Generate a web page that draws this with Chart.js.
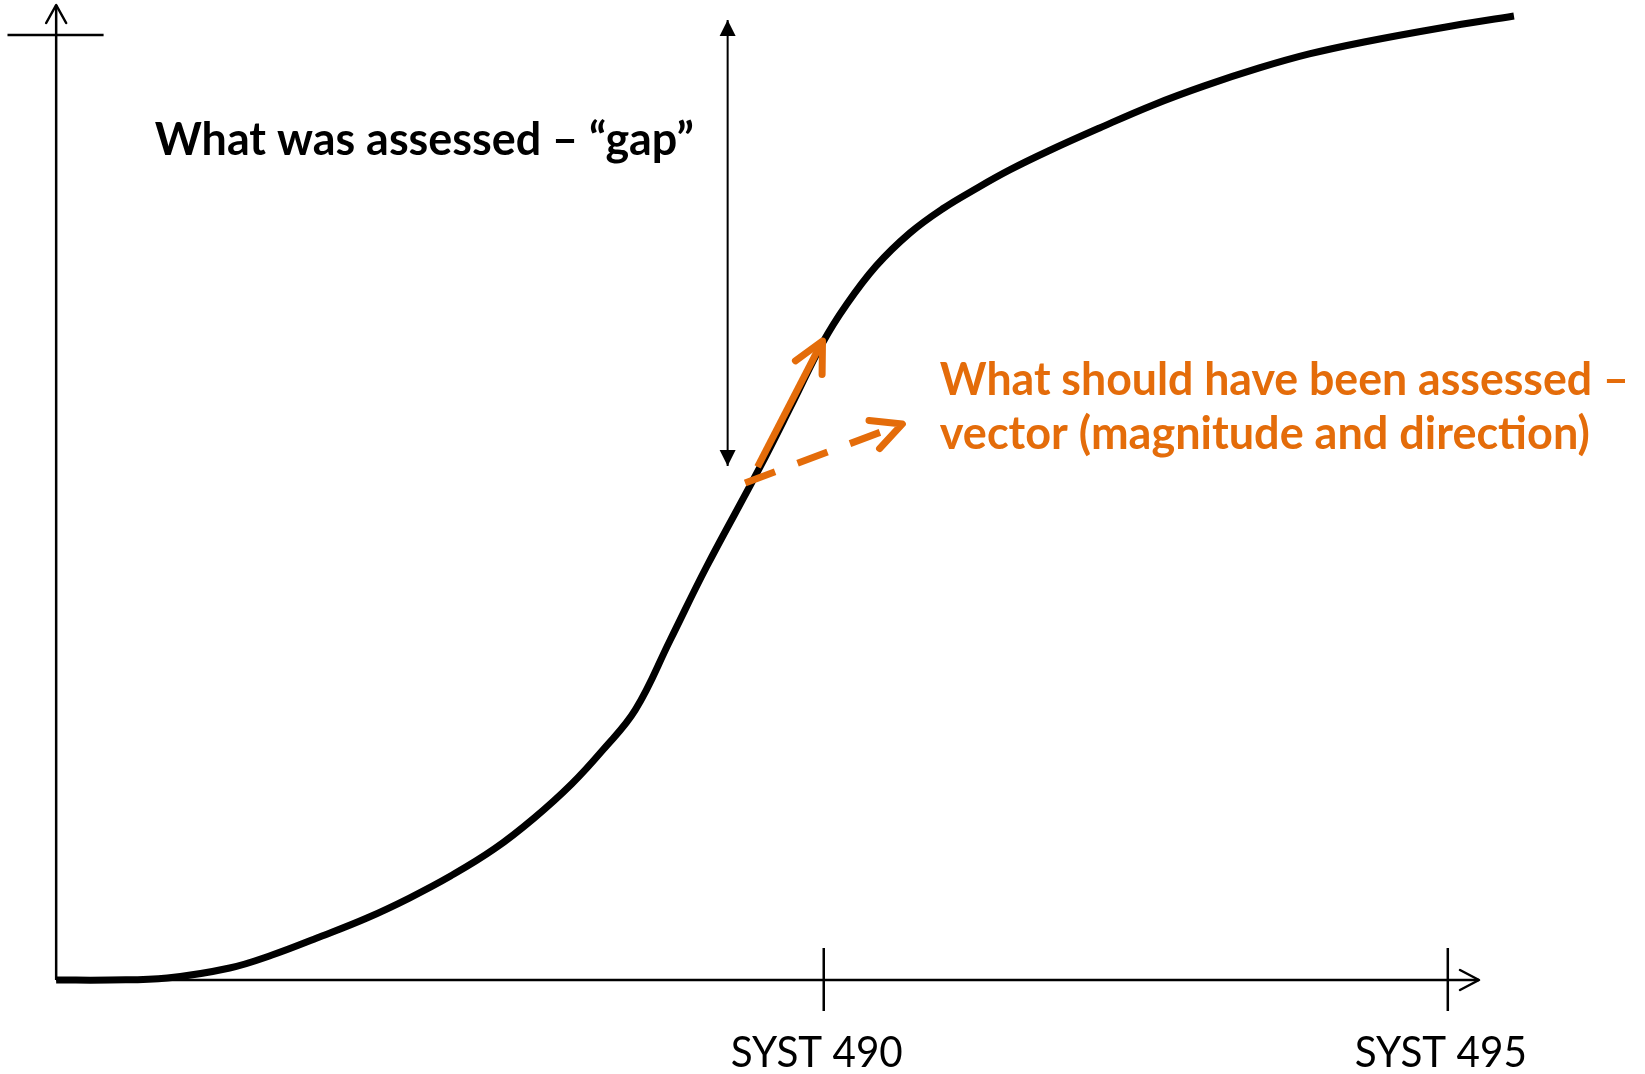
<!DOCTYPE html>
<html>
<head>
<meta charset="utf-8">
<script src="https://cdn.jsdelivr.net/npm/chart.js@4.4.1/dist/chart.umd.min.js"></script>
<style>
  html, body { margin: 0; padding: 0; background: #fff; }
  canvas { display: block; }
</style>
</head>
<body>
<canvas id="my-chart" width="1645" height="1074"></canvas>
<script>
// S-curve, x in course numbers, y as level 0..100
const curveX = [483.85, 484.28, 484.74, 485.24, 485.58, 485.96, 486.34, 486.68, 487.01, 487.36,
  487.68, 487.98, 488.23, 488.49, 488.77, 489.06, 489.49, 489.75, 489.99, 490.18,
  490.42, 490.69, 490.95, 491.23, 491.49, 491.80, 492.21, 492.64, 493.05, 493.49,
  493.89, 494.33, 494.94, 495.53];
const curveY = [0, 0, 0.21, 1.25, 2.60, 4.48, 6.46, 8.54, 10.83, 13.65,
  16.88, 20.42, 23.96, 28.13, 35.42, 43.02, 53.44, 60.10, 66.35, 70.31,
  74.38, 77.81, 80.31, 82.50, 84.38, 86.35, 88.75, 91.15, 93.13, 95.00,
  96.46, 97.71, 99.17, 100.42];

const tickValues = [490, 495];
const tickLabels = ['SYST 490', 'SYST 495'];

const gapLabel = 'What was assessed – “gap”';
const vectorLabel = ['What should have been assessed –', 'vector (magnitude and direction)'];

// arrows (start, end)
const gapX = [489.23, 489.23], gapY = [100, 53.54];
const vectorX = [489.47, 489.99], vectorY = [53.44, 66.56];
const directionX = [489.37, 490.63], directionY = [51.77, 57.92];

// axis extents
const axisX = [483.85, 495.25], axisY = [0, 101.56];
const capX = [483.46, 484.23], capY = 98.44;

const orange = 'rgb(228,108,10)';

const pts = (xs, ys) => xs.map((x, i) => ({x: x, y: Array.isArray(ys) ? ys[i] : ys}));

const datasets = [
  { data: pts(vectorX, vectorY), borderColor: orange, borderWidth: 7, order: 1,
    arrow: {length: 30, width: 15} },
  { data: pts(directionX, directionY), borderColor: orange, borderWidth: 7, order: 1,
    borderDash: [32, 24], arrow: {length: 30, width: 15} },
  { data: pts(curveX, curveY), borderColor: '#000', borderWidth: 7, order: 2,
    tension: 0.4, borderCapStyle: 'butt', borderJoinStyle: 'round' },
  { data: pts(gapX, gapY), borderColor: '#000', borderWidth: 2, order: 3,
    arrow: {length: 16, width: 8, filled: true, both: true} },
  { data: pts(axisX, [0, 0]), borderColor: '#000', borderWidth: 2.5, order: 4,
    arrow: {length: 19, width: 10} },
  { data: pts([axisX[0], axisX[0]], axisY), borderColor: '#000', borderWidth: 2.5, order: 4,
    arrow: {length: 18, width: 10} },
  { data: pts(capX, capY), borderColor: '#000', borderWidth: 2.5, order: 4 }
];
tickValues.forEach(v => {
  datasets.push({ data: pts([v, v], [3.33, -3.23]), borderColor: '#000', borderWidth: 2.5, order: 4 });
});
datasets.forEach(d => { d.pointRadius = 0; d.clip = false; d.fill = false; if (d.tension === undefined) d.tension = 0; });

const arrowHeads = {
  id: 'arrowHeads',
  afterDatasetsDraw(chart) {
    const ctx = chart.ctx;
    chart.data.datasets.forEach((ds, i) => {
      if (!ds.arrow) return;
      const p = chart.getDatasetMeta(i).data;
      const ends = [[p[p.length - 2], p[p.length - 1]]];
      if (ds.arrow.both) ends.push([p[1], p[0]]);
      ends.forEach(([a, b]) => {
        const ang = Math.atan2(b.y - a.y, b.x - a.x);
        const bx = b.x - ds.arrow.length * Math.cos(ang), by = b.y - ds.arrow.length * Math.sin(ang);
        const ox = -Math.sin(ang) * ds.arrow.width, oy = Math.cos(ang) * ds.arrow.width;
        ctx.save();
        ctx.beginPath();
        ctx.moveTo(bx + ox, by + oy);
        ctx.lineTo(b.x, b.y);
        ctx.lineTo(bx - ox, by - oy);
        if (ds.arrow.filled) {
          ctx.closePath();
          ctx.fillStyle = ds.borderColor;
          ctx.fill();
        } else {
          ctx.setLineDash([]);
          ctx.lineWidth = ds.borderWidth;
          ctx.lineCap = 'round';
          ctx.lineJoin = 'round';
          ctx.strokeStyle = ds.borderColor;
          ctx.stroke();
        }
        ctx.restore();
      });
    });
  }
};

const labels = {
  id: 'labels',
  afterDraw(chart) {
    const ctx = chart.ctx, x = chart.scales.x, y = chart.scales.y;
    ctx.save();
    ctx.textBaseline = 'alphabetic';
    ctx.textAlign = 'left';
    ctx.fillStyle = '#000';
    ctx.font = 'bold 45px Lato';
    ctx.fillText(gapLabel, x.getPixelForValue(484.64), y.getPixelForValue(85.94), 539);
    ctx.fillStyle = orange;
    ctx.fillText(vectorLabel[0], x.getPixelForValue(490.93), y.getPixelForValue(60.94), 689);
    ctx.fillText(vectorLabel[1], x.getPixelForValue(490.93), y.getPixelForValue(55.31), 654);
    ctx.fillStyle = '#000';
    ctx.font = '42px Lato';
    ctx.textAlign = 'center';
    tickValues.forEach((v, i) => {
      ctx.fillText(tickLabels[i], x.getPixelForValue(v) - 7, y.getPixelForValue(-9.06), 172);
    });
    ctx.restore();
  }
};

new Chart(document.querySelector('#my-chart'), {
  type: 'line',
  data: { datasets: datasets },
  options: {
    responsive: false,
    animation: false,
    devicePixelRatio: 1,
    events: [],
    layout: { padding: 0 },
    plugins: { legend: { display: false }, tooltip: { enabled: false } },
    scales: {
      x: { type: 'linear', min: 483.40, max: 496.58, display: false },
      y: { type: 'linear', min: -9.79, max: 102.08, display: false }
    }
  },
  plugins: [arrowHeads, labels]
});
</script>
</body>
</html>
